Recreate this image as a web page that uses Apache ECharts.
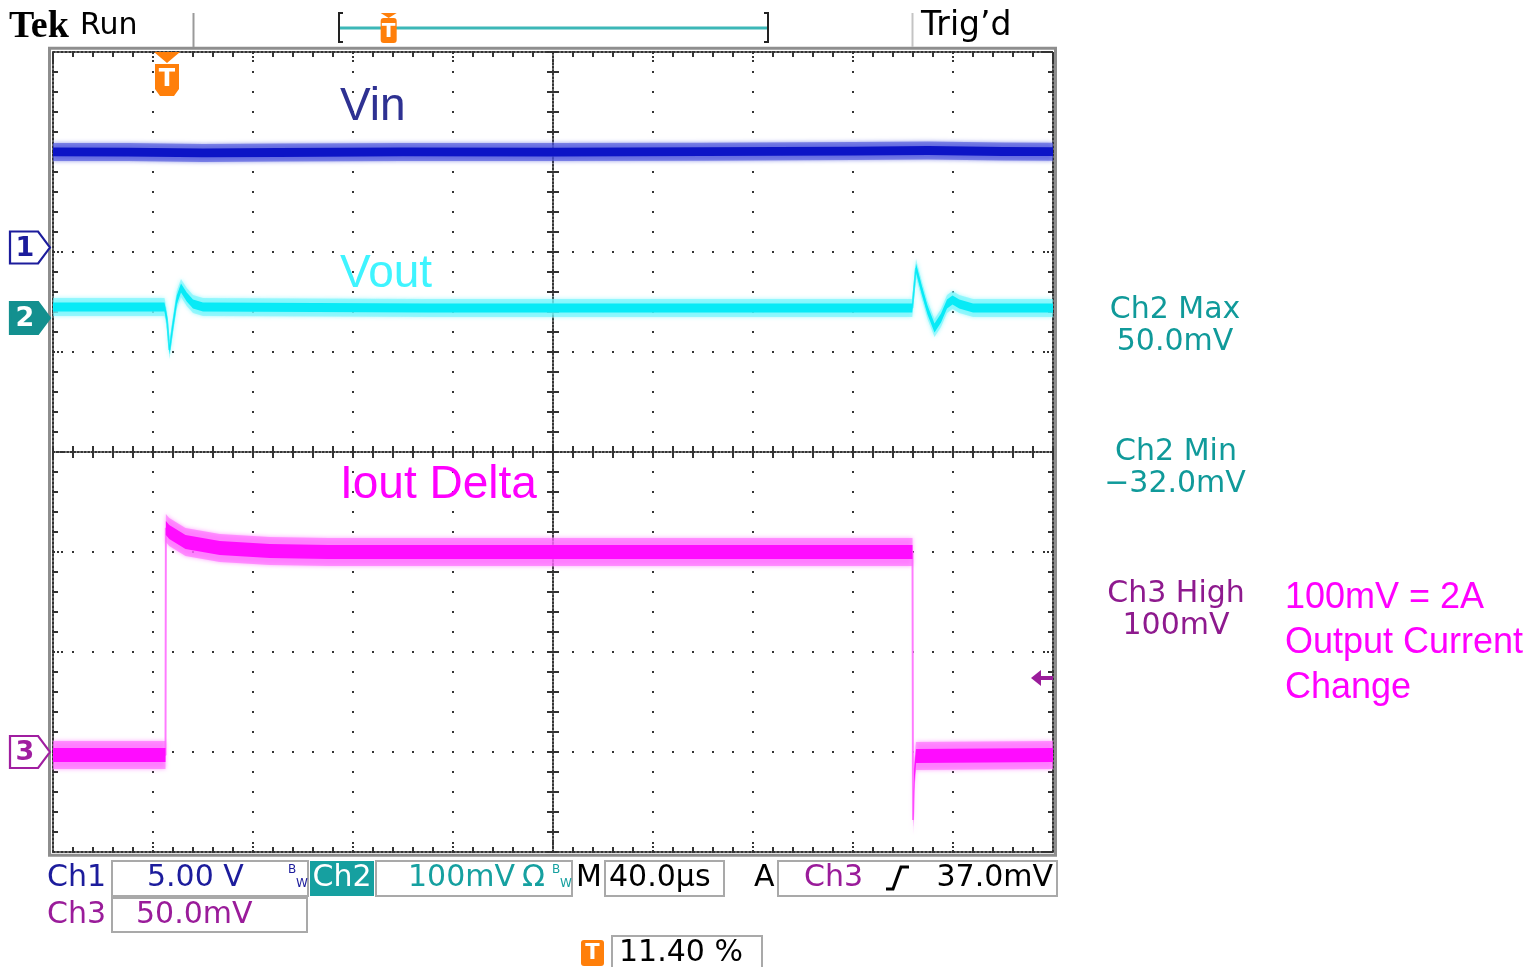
<!DOCTYPE html>
<html>
<head>
<meta charset="utf-8">
<script src="https://cdn.jsdelivr.net/npm/echarts@6/dist/echarts.min.js"></script>
<style>
html,body{margin:0;padding:0;background:#fff;}
#c{width:1537px;height:967px;}
</style>
</head>
<body>
<div id="c"></div>
<script>
// ---- Acquisition settings ----
const TIME_PER_DIV = 40;        // µs/div, 10 divisions
const TRIGGER_PCT = 11.40;      // trigger position in the record, %
const TRIGGER_LEVEL = 37.0;     // mV on Ch3

// Vertical settings: units per division and ground-marker position (divisions from centre)
const CH1_SCALE = 5.00, CH1_POS = 2.045;   // V/div
const CH2_SCALE = 100,  CH2_POS = 1.34;    // mV/div
const CH3_SCALE = 50,   CH3_POS = -3.0;    // mV/div

// ---- Traces: [time µs, level] ----
// Ch1 input voltage, V
const vinTrace = [[0,4.78],[30,4.77],[60,4.73],[90,4.75],[140,4.78],[200,4.77],[260,4.79],[320,4.82],[350,4.85],[380,4.80],[400,4.79]];
// Ch2 output voltage deviation, mV
const voutTrace = [[0,11],[44.6,11],[45.6,-2],[46.6,-32],[47.8,-10],[49.5,18],[51.2,30],[53.5,21],[56,14],[60,11],[150,10],[250,10],
  [343.7,10],[345.2,50],[347.5,28],[349.8,8],[352.6,-10],[355.2,0],[357.6,14],[359.8,18],[362.5,14],[368,10],[400,10]];
// Ch3 load-current sense, mV
const ioutTrace = [[0,-1.5],[45.0,-1.5],[45.15,112],[46.5,110],[53,105],[66.7,102],[86.7,100.5],[110,100],[200,100],
  [343.8,100],[344.0,-34],[344.5,-12],[345.2,-2],[400,-1.5]];

// Trace noise half-widths (inner core, outer fuzz), in channel units
const vinNoise = [0.22, 0.45];
const voutNoise = [4.5, 9];
const ioutNoise = [3.5, 7];

// Measurements shown at the right
const ch2Max = 50.0, ch2Min = -32.0, ch3High = 100;

// ---- Derived axis ranges ----
const DIVS_X = 10, DIVS_Y = 8;
const T_MAX = TIME_PER_DIV * DIVS_X;
const TRIG_T = T_MAX * TRIGGER_PCT / 100;
function chRange(scale, pos) { return [(-DIVS_Y / 2 - pos) * scale, (DIVS_Y / 2 - pos) * scale]; }
const ch1R = chRange(CH1_SCALE, CH1_POS), ch2R = chRange(CH2_SCALE, CH2_POS), ch3R = chRange(CH3_SCALE, CH3_POS);

const DOT = '#333333';
const SCOPE_FONT = '"DejaVu Sans"';

function borderX(position, extra) {
  return Object.assign({
    type: 'value', min: 0, max: T_MAX, interval: TIME_PER_DIV, position: position,
    axisLine: {show: true, onZero: false, lineStyle: {color: DOT, width: 2, type: [2, 2]}},
    axisTick: {show: true, inside: true, length: 12, lineStyle: {color: DOT, width: 2, type: [2, 2]}},
    minorTick: {show: true, splitNumber: 5, length: 5, lineStyle: {color: DOT, width: 2}},
    axisLabel: {show: false}, splitLine: {show: false}
  }, extra || {});
}
function borderY(position, extra) {
  return Object.assign({
    type: 'value', min: -DIVS_Y / 2, max: DIVS_Y / 2, interval: 1, position: position,
    axisLine: {show: true, onZero: false, lineStyle: {color: DOT, width: 2, type: [2, 2]}},
    axisTick: {show: true, inside: true, length: 12, lineStyle: {color: DOT, width: 2, type: [2, 2]}},
    minorTick: {show: true, splitNumber: 5, length: 5, lineStyle: {color: DOT, width: 2}},
    axisLabel: {show: false}, splitLine: {show: false}
  }, extra || {});
}
function centerTicks(inside) {
  return {show: true, inside: inside, length: 6, lineStyle: {color: DOT, width: 2}};
}
const centerMinor = {show: true, splitNumber: 5, length: 6, lineStyle: {color: DOT, width: 2}};
const gridSplit = {show: true, lineStyle: {color: DOT, width: 2, type: [2, 18], dashOffset: 1}};
const centerLine = {show: true, onZero: false, lineStyle: {color: DOT, width: 2, type: [1.5, 2]}};

function chAxis(r) {
  return {type: 'value', min: r[0], max: r[1], show: false, splitLine: {show: false}};
}

// Noise envelope: a filled polygon between trace+half and trace-half, placed through the axes
function band(trace, half, yIdx, color, opacity, blur) {
  return {
    type: 'custom', xAxisIndex: 0, yAxisIndex: yIdx, data: trace, encode: {x: 0, y: 1},
    silent: true, clip: true, z: 3,
    renderItem: function (params, api) {
      if (params.dataIndex !== 0) return null;
      const upper = trace.map(p => api.coord([p[0], p[1] + half]));
      const lower = trace.map(p => api.coord([p[0], p[1] - half])).reverse();
      return {type: 'polygon', shape: {points: upper.concat(lower)},
        style: {fill: color, opacity: opacity, shadowBlur: blur || 0, shadowColor: color}};
    }
  };
}

const markerPath = 'path://M0,0 L28,0 L40,16 L28,32 L0,32 Z';
function groundMarker(label, fill, border, textColor) {
  return {
    coord: [0, 0], symbol: markerPath, symbolSize: [40, 32], symbolOffset: [-23, 0],
    itemStyle: {color: fill, borderColor: border, borderWidth: 2},
    label: {show: true, formatter: label, position: 'inside', offset: [-5, 1], color: textColor,
      fontFamily: SCOPE_FONT, fontSize: 27, fontWeight: 'bold'}
  };
}
function coreLine(name, trace, yIdx, color, marks) {
  return {type: 'line', name: name, xAxisIndex: 0, yAxisIndex: yIdx, data: trace, symbol: 'none', z: 2,
    lineStyle: {color: color, width: 2}, silent: true,
    markPoint: {silent: true, animation: false, z: 5, data: marks}};
}

const series = [
  // Ch1
  coreLine('Vin', vinTrace, 4, '#0f17c4', [groundMarker('1', '#ffffff', '#1c1c9c', '#1c1c9c')]),
  band(vinTrace, vinNoise[1], 4, '#4a52dc', 0.6, 4),
  band(vinTrace, vinNoise[0], 4, '#0c14c6', 1, 0),
  // Ch2
  coreLine('Vout', voutTrace, 5, '#00e8f6', [groundMarker('2', '#13908f', '#13908f', '#ffffff')]),
  band(voutTrace, voutNoise[1], 5, '#6ef5fb', 0.6, 4),
  band(voutTrace, voutNoise[0], 5, '#08eaf6', 1, 0),
  // Ch3
  coreLine('Iout', ioutTrace, 6, '#ff80ff', [
    groundMarker('3', '#ffffff', '#a01ea0', '#a01ea0'),
    {coord: [TRIG_T, ch3R[1]], symbol: 'path://M0,0 L26,0 L13,11 Z M1,12 L25,12 L25,37 L20,44 L6,44 L1,37 Z',
      symbolSize: [26, 44], symbolOffset: [0, 22], itemStyle: {color: '#ff7f0a'},
      label: {show: true, formatter: 'T', position: 'inside', offset: [0, 6], color: '#ffffff',
        fontFamily: SCOPE_FONT, fontSize: 24, fontWeight: 'bold'}},
    {coord: [T_MAX, TRIGGER_LEVEL], symbol: 'path://M0,8 L10,0 L10,6 L22,6 L22,10 L10,10 L10,16 Z',
      symbolSize: [22, 16], symbolOffset: [-11, 0], itemStyle: {color: '#9a1c9a'}, label: {show: false}}
  ]),
  band(ioutTrace, ioutNoise[1], 6, '#ff66ff', 0.6, 4),
  band(ioutTrace, ioutNoise[0], 6, '#ff0cff', 1, 0)
];

// ---- Screen furniture ----
function txt(x, y, text, color, size, align) {
  return {type: 'text', x: x, y: y, z: 10, silent: true,
    style: {text: text, fill: color, font: size + 'px ' + SCOPE_FONT, align: align || 'left', verticalAlign: 'middle'}};
}
function sans(x, y, text, color, size) {
  return {type: 'text', x: x, y: y, z: 10, silent: true,
    style: {text: text, fill: color, font: size + 'px "Liberation Sans"', verticalAlign: 'middle'}};
}
function box(x, y, w, h, fill, stroke) {
  return {type: 'rect', z: 5, silent: true, shape: {x: x, y: y, width: w, height: h},
    style: {fill: fill || '#ffffff', stroke: stroke || '#a9a9a9', lineWidth: 2}};
}
function vline(x, y1, y2, color, w) {
  return {type: 'line', z: 5, silent: true, shape: {x1: x, y1: y1, x2: x, y2: y2}, style: {stroke: color, lineWidth: w}};
}
function tIcon(cx, top, w, h, tri) {
  const items = [];
  let y0 = top;
  if (tri) {
    items.push({type: 'polygon', z: 10, shape: {points: [[cx - w / 2, top], [cx + w / 2, top], [cx, top + 5]]}, style: {fill: '#ff7f0a'}});
    y0 = top + 5;
  }
  const hh = h - (y0 - top);
  items.push({type: 'rect', z: 10, shape: {x: cx - w / 2, y: y0, width: w, height: hh, r: 3}, style: {fill: '#ff7f0a'}});
  items.push({type: 'text', z: 11, x: cx, y: y0 + hh / 2 + 1, style: {text: 'T', fill: '#fff',
    font: 'bold ' + Math.round(hh * 0.8) + 'px ' + SCOPE_FONT, align: 'center', verticalAlign: 'middle'}});
  return items;
}

const BAR_L = 340, BAR_R = 767;
const graphic = [
  // graticule frame
  {type: 'rect', z: 1, silent: true, shape: {x: 49.5, y: 48.3, width: 1006, height: 807}, style: {fill: null, stroke: '#8e8e8e', lineWidth: 3}},
  // top status bar
  {type: 'text', x: 9, y: 27, z: 10, style: {text: 'Tek', fill: '#000', font: 'bold 38px "Liberation Serif"', verticalAlign: 'middle'}},
  txt(80, 26, 'Run', '#000', 30),
  vline(193.5, 13, 47, '#9a9a9a', 2),
  vline(912.5, 13, 47, '#c4c4c4', 2),
  txt(921, 26, 'Trig’d', '#000', 33),
  {type: 'polyline', z: 5, shape: {points: [[343, 13], [339, 13], [339, 42], [343, 42]]}, style: {stroke: '#222', lineWidth: 2, fill: null}},
  {type: 'polyline', z: 5, shape: {points: [[764, 13], [768, 13], [768, 42], [764, 42]]}, style: {stroke: '#222', lineWidth: 2, fill: null}},
  {type: 'line', z: 5, shape: {x1: BAR_L, y1: 28, x2: BAR_R, y2: 28}, style: {stroke: '#3cb7b7', lineWidth: 3}},
  ...tIcon(BAR_L + (BAR_R - BAR_L) * TRIGGER_PCT / 100, 13, 16, 30, true),

  // trace names
  sans(340, 107, 'Vin', '#2e3192', 46),
  sans(340, 274, 'Vout', '#3ff4ff', 46),
  sans(340, 485, 'Iout Delta', '#ff00ff', 46),

  // measurements
  txt(1175, 310, 'Ch2 Max', '#109a9a', 30, 'center'),
  txt(1175, 342, ch2Max.toFixed(1) + 'mV', '#109a9a', 30, 'center'),
  txt(1176, 452, 'Ch2 Min', '#109a9a', 30, 'center'),
  txt(1175, 484, '−' + Math.abs(ch2Min).toFixed(1) + 'mV', '#109a9a', 30, 'center'),
  txt(1176, 594, 'Ch3 High', '#8e1a8e', 30, 'center'),
  txt(1176, 626, ch3High + 'mV', '#8e1a8e', 30, 'center'),
  sans(1285, 598, '100mV = 2A', '#ff00ff', 36),
  sans(1285, 643, 'Output Current', '#ff00ff', 36),
  sans(1285, 688, 'Change', '#ff00ff', 36),

  // bottom readouts, row 1
  txt(47, 878, 'Ch1', '#1c1c9c', 30),
  box(112, 861, 196, 35),
  txt(147, 878, CH1_SCALE.toFixed(2) + ' V', '#1c1c9c', 30),
  txt(288, 870, 'B', '#1c1c9c', 12),
  txt(296, 884, 'W', '#1c1c9c', 12),
  box(311, 862, 62, 33, '#16a0a0', '#16a0a0'),
  txt(342, 878, 'Ch2', '#ffffff', 30, 'center'),
  box(376, 861, 196, 35),
  txt(408, 878, CH2_SCALE + 'mV', '#16a0a0', 30),
  txt(522, 878, 'Ω', '#16a0a0', 30),
  txt(552, 870, 'B', '#16a0a0', 12),
  txt(560, 884, 'W', '#16a0a0', 12),
  txt(576, 878, 'M', '#000', 30),
  box(605, 861, 119, 35),
  txt(609, 878, TIME_PER_DIV.toFixed(1) + 'µs', '#000', 30),
  txt(754, 878, 'A', '#000', 30),
  box(778, 861, 279, 35),
  txt(804, 878, 'Ch3', '#9a1c9a', 30),
  {type: 'polyline', z: 10, shape: {points: [[886, 889], [893, 889], [901, 867], [909, 867]]}, style: {stroke: '#000', lineWidth: 3, fill: null}},
  txt(1053, 878, TRIGGER_LEVEL.toFixed(1) + 'mV', '#000', 30, 'right'),
  // row 2
  txt(47, 915, 'Ch3', '#9a1c9a', 30),
  box(112, 898, 195, 34),
  txt(136, 915, CH3_SCALE.toFixed(1) + 'mV', '#9a1c9a', 30),
  // row 3
  ...tIcon(592.5, 940, 23, 26, false),
  box(612, 936, 150, 40),
  txt(619, 953, TRIGGER_PCT.toFixed(2) + ' %', '#000', 30)
];

const option = {
  animation: false,
  backgroundColor: '#ffffff',
  grid: {left: 53, top: 52, width: 1000, height: 800, show: false},
  xAxis: [
    borderX('bottom', {splitLine: gridSplit}),
    borderX('top'),
    borderX('bottom', {offset: -400, axisLine: centerLine, axisTick: centerTicks(true), minorTick: centerMinor}),
    borderX('bottom', {offset: -400, axisLine: {show: false}, axisTick: centerTicks(false), minorTick: centerMinor})
  ],
  yAxis: [
    borderY('left', {splitLine: gridSplit}),
    borderY('right'),
    borderY('left', {offset: -500, axisLine: centerLine, axisTick: centerTicks(true), minorTick: centerMinor}),
    borderY('left', {offset: -500, axisLine: {show: false}, axisTick: centerTicks(false), minorTick: centerMinor}),
    chAxis(ch1R), chAxis(ch2R), chAxis(ch3R)
  ],
  series: series,
  graphic: graphic
};

const chart = echarts.init(document.getElementById('c'));
chart.setOption(option);
</script>
</body>
</html>
